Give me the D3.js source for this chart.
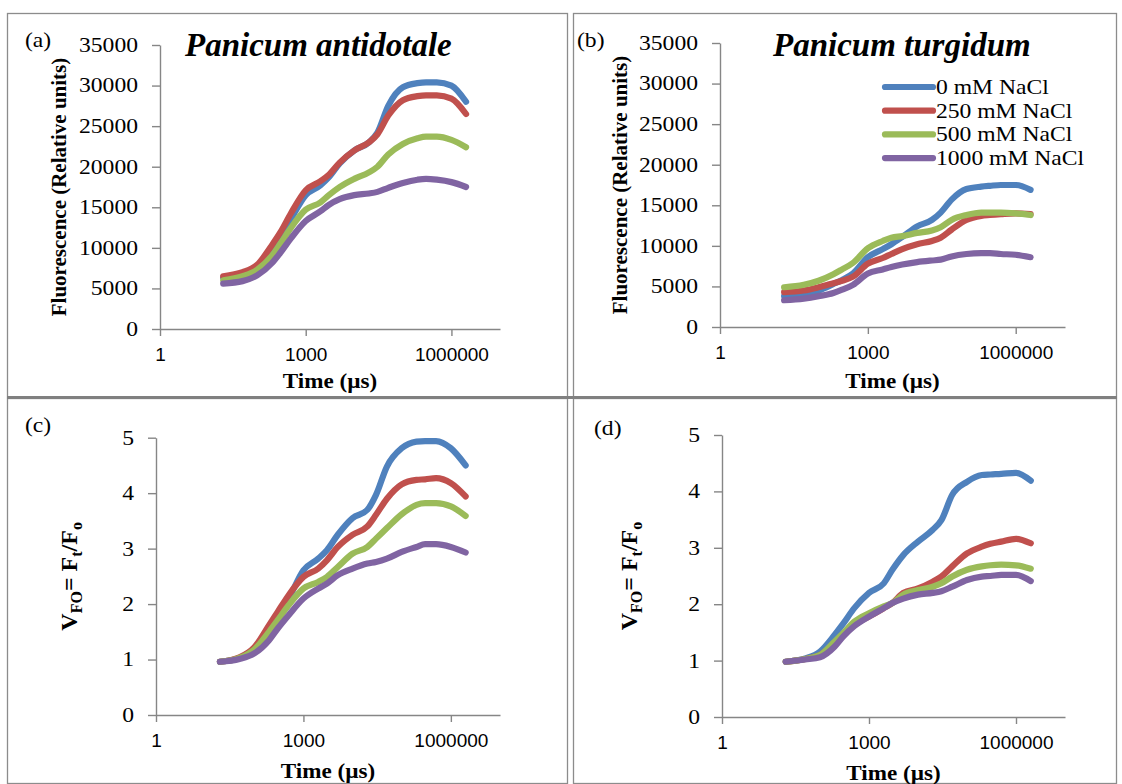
<!DOCTYPE html>
<html>
<head>
<meta charset="utf-8">
<script src="https://cdn.jsdelivr.net/npm/d3@7"></script>
<style>
  body { margin: 0; background: #fff; }
  svg { display: block; }
</style>
</head>
<body>
<div id="chart-container"></div>
<script>
// time points (µs) read along the log axis
const times = [20, 50, 100, 200, 300, 500, 1000, 2000, 3000, 5000, 10000, 20000, 30000, 50000, 100000, 200000, 300000, 500000, 1000000, 2000000];
const saltLevels = ["0 mM NaCl", "250 mM NaCl", "500 mM NaCl", "1000 mM NaCl"];
const timeTicks = [1, 1000, 1000000];
const fluoTicks = [0, 5000, 10000, 15000, 20000, 25000, 30000, 35000];
const vfoTicks = [0, 1, 2, 3, 4, 5];

// (a) Panicum antidotale, fluorescence
const antidotaleF_0    = [6300, 6800, 7600, 9800, 11400, 13600, 16500, 17700, 18700, 20400, 22000, 23000, 24200, 27500, 29800, 30300, 30400, 30400, 30000, 28000];
const antidotaleF_250  = [6500, 7000, 7900, 10300, 11900, 14300, 17100, 18200, 19000, 20500, 22000, 23000, 24000, 26300, 28200, 28700, 28800, 28800, 28400, 26500];
const antidotaleF_500  = [6000, 6500, 7300, 9000, 10500, 12500, 14700, 15600, 16500, 17500, 18500, 19300, 20000, 21500, 22800, 23500, 23700, 23700, 23300, 22400];
const antidotaleF_1000 = [5600, 5900, 6600, 8100, 9400, 11200, 13300, 14500, 15300, 16000, 16500, 16700, 16900, 17400, 18000, 18400, 18500, 18400, 18100, 17500];

// (b) Panicum turgidum, fluorescence
const turgidumF_0    = [3800, 4000, 4500, 5300, 5800, 6600, 8600, 9600, 10200, 11100, 12400, 13200, 14100, 15700, 17000, 17300, 17400, 17500, 17500, 16900];
const turgidumF_250  = [4300, 4500, 4900, 5400, 5700, 6200, 7800, 8500, 9000, 9600, 10200, 10600, 11000, 12000, 13200, 13700, 13800, 13900, 14000, 13900];
const turgidumF_500  = [4900, 5200, 5700, 6500, 7100, 7900, 9700, 10600, 11000, 11200, 11600, 11900, 12300, 13200, 13800, 14100, 14100, 14100, 14000, 13800];
const turgidumF_1000 = [3300, 3500, 3800, 4200, 4600, 5200, 6600, 7100, 7400, 7700, 8000, 8200, 8300, 8700, 9000, 9100, 9100, 9000, 8900, 8600];

// (c) Panicum antidotale, VFO = Ft/Fo
const antidotaleV_0    = [0.96, 1.03, 1.2, 1.56, 1.8, 2.1, 2.61, 2.82, 2.97, 3.25, 3.55, 3.7, 3.97, 4.48, 4.81, 4.93, 4.94, 4.94, 4.81, 4.5];
const antidotaleV_250  = [0.96, 1.04, 1.22, 1.62, 1.86, 2.16, 2.49, 2.64, 2.79, 3.03, 3.25, 3.4, 3.61, 3.9, 4.16, 4.24, 4.25, 4.27, 4.18, 3.94];
const antidotaleV_500  = [0.96, 1.03, 1.18, 1.5, 1.71, 1.98, 2.28, 2.4, 2.49, 2.67, 2.91, 3.03, 3.18, 3.37, 3.62, 3.79, 3.82, 3.82, 3.76, 3.59];
const antidotaleV_1000 = [0.96, 1.01, 1.11, 1.35, 1.56, 1.8, 2.1, 2.28, 2.37, 2.52, 2.64, 2.73, 2.76, 2.82, 2.94, 3.03, 3.08, 3.08, 3.03, 2.93];

// (d) Panicum turgidum, VFO = Ft/Fo
const turgidumV_0    = [0.98, 1.04, 1.16, 1.46, 1.66, 1.93, 2.2, 2.37, 2.61, 2.87, 3.11, 3.32, 3.49, 3.94, 4.17, 4.29, 4.3, 4.31, 4.33, 4.19];
const turgidumV_250  = [0.98, 1.03, 1.1, 1.31, 1.46, 1.64, 1.78, 1.93, 2.02, 2.2, 2.28, 2.4, 2.49, 2.67, 2.9, 3.02, 3.07, 3.11, 3.16, 3.08];
const turgidumV_500  = [0.98, 1.03, 1.1, 1.34, 1.49, 1.69, 1.84, 1.96, 2.02, 2.17, 2.25, 2.31, 2.37, 2.49, 2.61, 2.67, 2.69, 2.7, 2.69, 2.63];
const turgidumV_1000 = [0.98, 1.02, 1.06, 1.25, 1.43, 1.61, 1.78, 1.93, 2.02, 2.1, 2.17, 2.2, 2.23, 2.31, 2.43, 2.49, 2.5, 2.52, 2.52, 2.41];

const lineColors = ["#4F81BD", "#C0504D", "#9BBB59", "#8064A2"];
const serif = '"Liberation Serif", "Times New Roman", serif';
const sans = '"Liberation Sans", Arial, sans-serif';
const stretch = 1.18;

document.addEventListener('DOMContentLoaded', function(){
  drawFigure();
});

function drawFigure(){
  const svg = d3.select("#chart-container").append("svg")
    .attr("width", 1122)
    .attr("height", 784);

  //panel frames
  const frames = [[7, 13, 567, 397], [573, 13, 1116, 397], [7, 398, 567, 783], [573, 398, 1116, 783]];
  frames.forEach(f => {
    svg.append("rect")
      .attr("x", f[0] + 0.5).attr("y", f[1] + 0.5)
      .attr("width", f[2] - f[0]).attr("height", f[3] - f[1])
      .attr("fill", "none")
      .attr("stroke", "#8c8c8c")
      .attr("stroke-width", 1.3);
  });
  svg.append("line")
    .attr("x1", 7).attr("x2", 1117)
    .attr("y1", 397.5).attr("y2", 397.5)
    .attr("stroke", "#808080")
    .attr("stroke-width", 3);

  const panels = [
    {label: "(a)", labelX: 25, labelY: 47, title: "Panicum antidotale", titleX: 185,
     series: [antidotaleF_0, antidotaleF_250, antidotaleF_500, antidotaleF_1000],
     yMax: 35000, yTicks: fluoTicks, yTitle: "fluo",
     left: 160, right: 500, bottom: 329, top: 45, yTitleX: 66, timeY: 388},
    {label: "(b)", labelX: 577, labelY: 47, title: "Panicum turgidum", titleX: 773,
     series: [turgidumF_0, turgidumF_250, turgidumF_500, turgidumF_1000],
     yMax: 35000, yTicks: fluoTicks, yTitle: "fluo", legend: true,
     left: 720, right: 1065, bottom: 327, top: 43, yTitleX: 627, timeY: 388},
    {label: "(c)", labelX: 25, labelY: 432,
     series: [antidotaleV_0, antidotaleV_250, antidotaleV_500, antidotaleV_1000],
     yMax: 5, yTicks: vfoTicks, yTitle: "vfo",
     left: 156, right: 500, bottom: 715, top: 437.7, yTitleX: 77, timeY: 778},
    {label: "(d)", labelX: 594, labelY: 435,
     series: [turgidumV_0, turgidumV_250, turgidumV_500, turgidumV_1000],
     yMax: 5, yTicks: vfoTicks, yTitle: "vfo",
     left: 722, right: 1065, bottom: 717, top: 435, yTitleX: 637, timeY: 780}
  ];

  panels.forEach(p => drawPanel(svg, p));
}

function drawPanel(svg, p){
  const x = d3.scaleLog().domain([1, 1e7]).range([p.left, p.right]);
  const y = d3.scaleLinear().domain([0, p.yMax]).range([p.bottom, p.top]);
  const g = svg.append("g");

  //axes
  const yAxis = g.append("g")
    .attr("transform", "translate(" + p.left + ",0)")
    .call(d3.axisLeft(y).tickValues(p.yTicks).tickSize(8).tickSizeOuter(0).tickFormat(d3.format("d")));
  const xAxis = g.append("g")
    .attr("transform", "translate(0," + p.bottom + ")")
    .call(d3.axisBottom(x).tickValues(timeTicks).tickSize(7).tickSizeOuter(0).tickFormat(d3.format("d")));

  g.selectAll(".domain, .tick line")
    .attr("stroke", "#868686")
    .attr("stroke-width", 1.4);

  yAxis.selectAll("text")
    .attr("font-family", serif)
    .attr("font-size", 20)
    .attr("fill", "#000")
    .attr("x", -22 / stretch)
    .attr("transform", "scale(" + stretch + ",1)");

  xAxis.selectAll("text")
    .attr("font-family", sans)
    .attr("font-size", 19)
    .attr("fill", "#000")
    .attr("y", 19);

  //curves
  const line = d3.line()
    .x((d, i) => x(times[i]))
    .y(d => y(d))
    .curve(d3.curveMonotoneX);

  p.series.forEach((s, i) => {
    g.append("path")
      .attr("d", line(s))
      .attr("fill", "none")
      .attr("stroke", lineColors[i])
      .attr("stroke-width", 6.2)
      .attr("stroke-linecap", "round")
      .attr("stroke-linejoin", "round");
  });

  //panel letter
  g.append("text")
    .attr("transform", "translate(" + p.labelX + "," + p.labelY + ") scale(" + stretch + ",1)")
    .attr("font-family", serif)
    .attr("font-size", 20)
    .text(p.label);

  //species title
  if (p.title) {
    g.append("text")
      .attr("x", p.titleX)
      .attr("y", 56)
      .attr("font-family", serif)
      .attr("font-size", 33)
      .attr("font-weight", "bold")
      .attr("font-style", "italic")
      .text(p.title);
  }

  //x title
  g.append("text")
    .attr("transform", "translate(" + ((p.left + p.right) / 2) + "," + p.timeY + ") scale(1.1,1)")
    .attr("text-anchor", "middle")
    .attr("font-family", serif)
    .attr("font-size", 21)
    .attr("font-weight", "bold")
    .text("Time (µs)");

  //y title
  const yMid = (p.top + p.bottom) / 2;
  const yTitle = g.append("text")
    .attr("transform", "translate(" + p.yTitleX + "," + yMid + ") rotate(-90)")
    .attr("text-anchor", "middle")
    .attr("font-family", serif)
    .attr("font-weight", "bold");

  if (p.yTitle === "fluo") {
    yTitle.attr("font-size", 21).text("Fluorescence (Relative units)");
  } else {
    yTitle.attr("font-size", 24);
    const parts = [["V", 0], ["FO", 1], ["= F", 0], ["t", 1], ["/F", 0], ["o", 1]];
    let shift = 0;
    parts.forEach(pt => {
      const target = pt[1] ? 5 : 0;
      yTitle.append("tspan")
        .attr("dy", target - shift)
        .attr("font-size", pt[1] ? 16 : 24)
        .text(pt[0]);
      shift = target;
    });
  }

  //legend
  if (p.legend) {
    const legendItem = g.append("g")
      .selectAll("g")
      .data(saltLevels)
      .enter().append("g")
      .attr("transform", (d, i) => "translate(883," + (87 + i * 23.7) + ")");

    legendItem.append("line")
      .attr("x1", 2).attr("x2", 50)
      .attr("stroke", (d, i) => lineColors[i])
      .attr("stroke-width", 6.2)
      .attr("stroke-linecap", "round");

    legendItem.append("text")
      .attr("transform", "translate(53,7) scale(" + stretch + ",1)")
      .attr("font-family", serif)
      .attr("font-size", 20)
      .text(d => d);
  }
}
</script>
</body>
</html>
